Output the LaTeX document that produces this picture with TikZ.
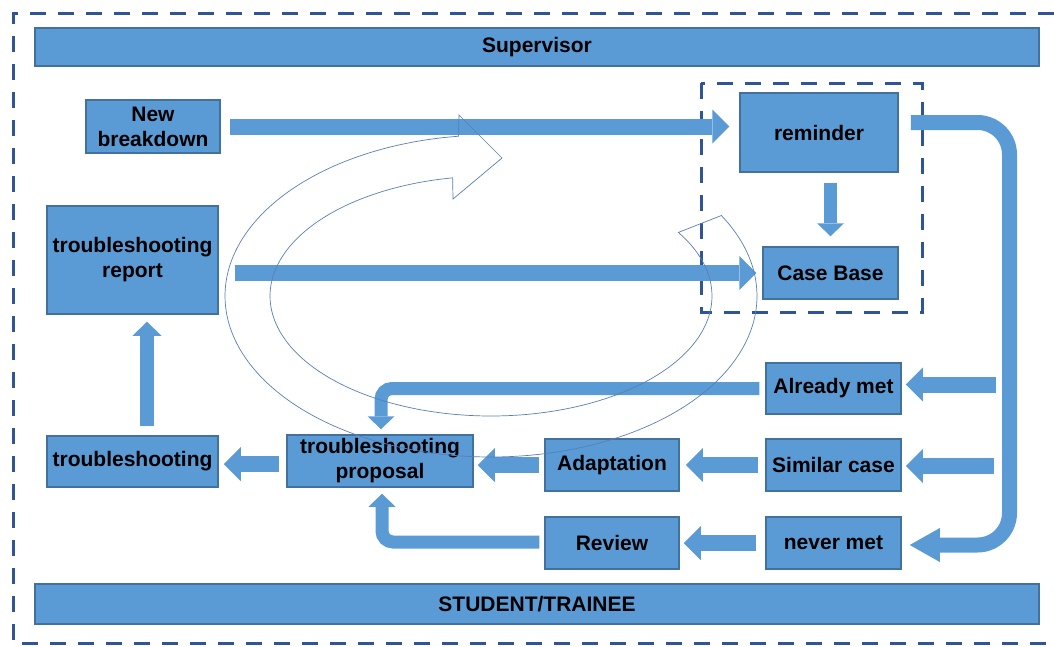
\documentclass[tikz,border=0pt]{standalone}
\usepackage{fontspec}
\setmainfont{Liberation Sans}
\usetikzlibrary{arrows.meta,calc}
\definecolor{boxfill}{HTML}{5B9BD5}
\definecolor{boxline}{HTML}{41719C}
\definecolor{dashblue}{HTML}{2F5597}
\definecolor{spiralline}{HTML}{5A7DB6}
\tikzset{
  box/.style={draw=boxline, fill=boxfill, line width=1.5pt, inner sep=0pt,
    align=center, font=\bfseries\fontsize{21}{25}\selectfont},
  bar/.style={box, minimum width=1004pt},
  bigarrow/.style={draw=boxfill, line width=16pt,
    -{Triangle[length=17pt,width=34pt,line width=0pt]}},
  thinarrow/.style={draw=boxfill, line width=13pt,
    -{Triangle[length=13pt,width=27pt,line width=0pt]}},
  dashframe/.style={draw=dashblue, line width=3pt, dash pattern=on 16pt off 12pt},
  spiral/.style={draw=spiralline, line width=0.7pt},
}

\begin{document}
\begin{tikzpicture}[x=1pt, y=-1pt]
  \useasboundingbox (0,0) rectangle (1054,646);
  % frames
  \draw[dashframe] (1054,13) -- (13,13) -- (13,643) -- (1054,643);
  \draw[dashframe] (701,83) rectangle (922,312);

  \node[bar, minimum height=38pt] (sup) at (537,47) {Supervisor};
  \node[bar, minimum height=40pt] (trainee) at (537,604) {STUDENT/TRAINEE};

  \node[box, minimum width=134pt, minimum height=53pt] (newbd) at (153,126.5) {New\\breakdown};
  \node[box, minimum width=171pt, minimum height=108pt] (report) at (132.5,260) {troubleshooting\\report};
  \node[box, minimum width=171pt, minimum height=51pt] (shooting) at (132.5,461.5) {troubleshooting};
  \node[box, minimum width=186pt, minimum height=52pt] (proposal) at (380,461) {troubleshooting\\proposal};
  \node[box, minimum width=134pt, minimum height=52pt] (adapt) at (612,465) {Adaptation};
  \node[box, minimum width=134pt, minimum height=52pt] (review) at (612,543) {Review};
  \node[box, minimum width=135pt, minimum height=51pt] (already) at (833.5,388.5) {Already met};
  \node[box, minimum width=135pt, minimum height=52pt] (similar) at (833.5,465) {Similar case};
  \node[box, minimum width=135pt, minimum height=52pt] (nevermet) at (833.5,543) {never met};
  \node[box, minimum width=158pt, minimum height=79pt] (reminder) at (819,132.5) {reminder};
  \node[box, minimum width=135pt, minimum height=52pt] (casebase) at (830.5,273) {Case Base};

  % block arrows
  \draw[bigarrow, shorten <=9pt, shorten >=10pt] (newbd.east) -- (newbd.east -| reminder.west);
  \draw[bigarrow, shorten <=16pt, shorten >=6pt] (report.east |- casebase.west) -- (casebase.west);
  \draw[thinarrow, shorten <=10pt, shorten >=10pt] (casebase.north |- reminder.south) -- (casebase.north);

  \coordinate (utop) at (1009.5,122.5);
  \coordinate (ubot) at (1009.5,545);
  \draw[bigarrow, line width=15pt, -{Triangle[length=30pt,width=34pt,line width=0pt]},
    rounded corners=32pt] ($(reminder.east)+(12,-10)$) -- (utop) -- (ubot)
    -- ($(nevermet.east)+(8,2)$);

  \coordinate (ametsrc) at (996,384.5);
  \coordinate (simsrc) at (994,466);
  \draw[bigarrow, shorten >=4pt] (ametsrc) -- (ametsrc -| already.east);
  \draw[bigarrow, shorten >=4pt] (simsrc) -- (simsrc -| similar.east);

  \draw[bigarrow, shorten <=7pt, shorten >=6pt] (similar.west) -- (adapt.east);
  \draw[bigarrow, shorten <=9pt, shorten >=4pt] (nevermet.west) -- (review.east);
  \draw[bigarrow, shorten <=5pt, shorten >=4pt] (adapt.west) -- (adapt.west -| proposal.east);
  \draw[bigarrow, shorten <=7pt, shorten >=5pt] ($(proposal.west)+(0,3)$) -- ($(proposal.west -| shooting.east)+(0,3)$);
  \draw[thinarrow, line width=14pt, -{Triangle[length=14pt,width=29pt,line width=0pt]},
    shorten <=9pt, shorten >=7pt] ($(shooting.north)+(14.5,0)$) -- ($(report.south)+(14.5,0)$);

  \draw[thinarrow, rounded corners=11pt, shorten <=6pt, shorten >=5pt]
    (already.west) -| ($(proposal.north)+(1,0)$);
  \draw[thinarrow, rounded corners=11pt, shorten <=5pt, shorten >=6pt]
    ($(review.west)+(0,-1)$) -| ($(proposal.south)+(2,0)$);

  % spiral
  \draw[spiral]
    plot[domain=-30:263, samples=90, smooth] ({491+266*cos(\x)}, {296+161*sin(\x)})
    -- (459,115) -- (502,158) -- (453,199)
    -- plot[domain=260:-32, samples=90, smooth] ({491+221*cos(\x)}, {296+120*sin(\x)})
    -- cycle;
\end{tikzpicture}
\end{document}
